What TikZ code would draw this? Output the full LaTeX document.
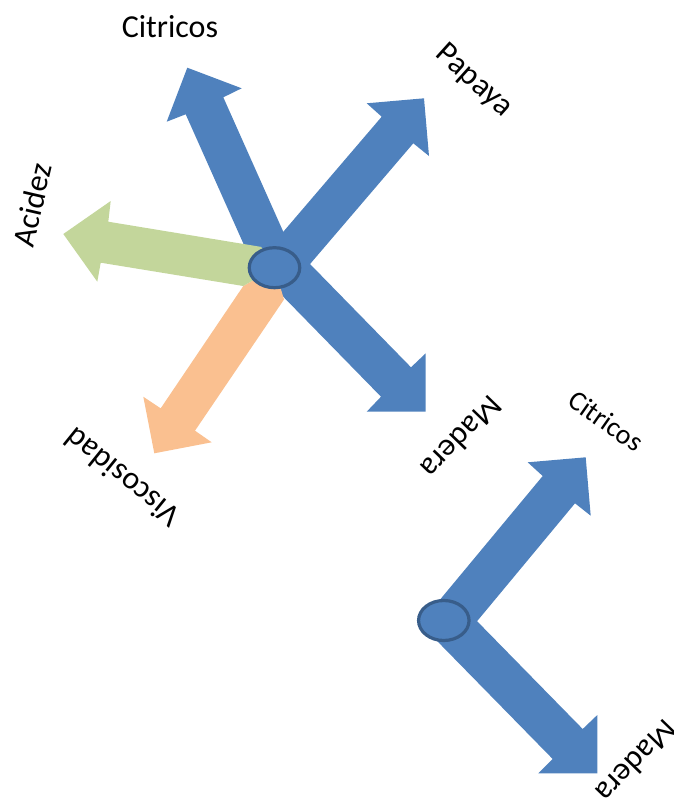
\documentclass[tikz,border=0pt]{standalone}
\usepackage{fontspec}
\setmainfont{Carlito}
\usetikzlibrary{shapes.geometric}
\definecolor{axisblue}{HTML}{4F81BD}
\definecolor{axisgreen}{HTML}{C3D69B}
\definecolor{axisorange}{HTML}{FAC090}
\definecolor{hubline}{HTML}{385D8A}
\tikzset{
  blockarrow/.style={fill=#1, draw=none},
  hub/.style={ellipse, fill=axisblue, draw=hubline, line width=3.2pt,
    minimum width=50.5pt, minimum height=40pt, inner sep=0pt},
  axislabel/.style={inner sep=0pt, font=\fontsize{32}{38}\selectfont},
  smalllabel/.style={inner sep=0pt, font=\fontsize{28}{33}\selectfont},
}
\begin{document}
\begin{tikzpicture}[x=1pt,y=-1pt]
\useasboundingbox (0,0) rectangle (674,801);
\clip (0,0) rectangle (674,801);

% ---- first star: five axes from one hub ----
\coordinate (c1) at (274.5,267.7);
% Citricos
\fill[blockarrow=axisblue] (257,274.1) -- (185.7,114.3) -- (166.7,121.7) -- (187.3,67.7)
  -- (241.7,88.3) -- (223.3,97.3) -- (294.6,257.1) -- cycle;
% Papaya
\fill[blockarrow=axisblue] (258.2,261.1) -- (381.7,116.7) -- (366.7,103.3) -- (424,98.3)
  -- (429,156) -- (413.3,143.3) -- (289.8,287.7) -- cycle;
% Madera
\fill[blockarrow=axisblue] (306.1,260) -- (411,367.3) -- (425.7,353.3) -- (425.7,411.7)
  -- (366.7,411.7) -- (381,396.7) -- (276.1,289.4) -- cycle;
% Viscosidad
\fill[blockarrow=axisorange] (243.3,286) -- (c1) -- (284,299.5) -- (195,430.7)
  -- (211.7,442.3) -- (154.3,453.3) -- (143.3,396.7) -- (160.7,408.3) -- cycle;
% Acidez
\fill[blockarrow=axisgreen] (243.3,286) -- (c1) -- (261.2,246.9) -- (108.3,221.7)
  -- (110.7,201) -- (63.3,234) -- (97.3,281.7) -- (100.7,262.7) -- cycle;
\node[hub] (hub1) at (c1) {};

% ---- second pair of axes ----
\coordinate (c2) at (443.8,620.5);
% Citricos
\fill[blockarrow=axisblue] (437.3,602.9) -- (542.7,476) -- (527.7,462.3) -- (585.7,457.3)
  -- (590.7,515.7) -- (575,503.3) -- (469.6,630.2) -- cycle;
% Madera
\fill[blockarrow=axisblue] (467.2,611.1) -- (582.7,729) -- (597.3,715) -- (597.3,773.3)
  -- (538.3,773.3) -- (552.7,759) -- (437.2,641.1) -- cycle;
\node[hub] (hub2) at (c2) {};

% ---- labels ----
\node[axislabel] (lCit1) at (170,26.5) {Citricos};
\node[axislabel, rotate=-42] (lPap) at (474,81) {Papaya};
\node[axislabel, rotate=77] (lAci) at (32,205) {Acidez};
\node[axislabel, rotate=141] (lVis) at (122,478) {Viscosidad};
\node[axislabel, rotate=226] (lMad1) at (462,438) {Madera};
\node[smalllabel, rotate=-35] (lCit2) at (606,421) {Citricos};
\node[axislabel, rotate=226] (lMad2) at (637,762) {Madera};
\end{tikzpicture}
\end{document}
